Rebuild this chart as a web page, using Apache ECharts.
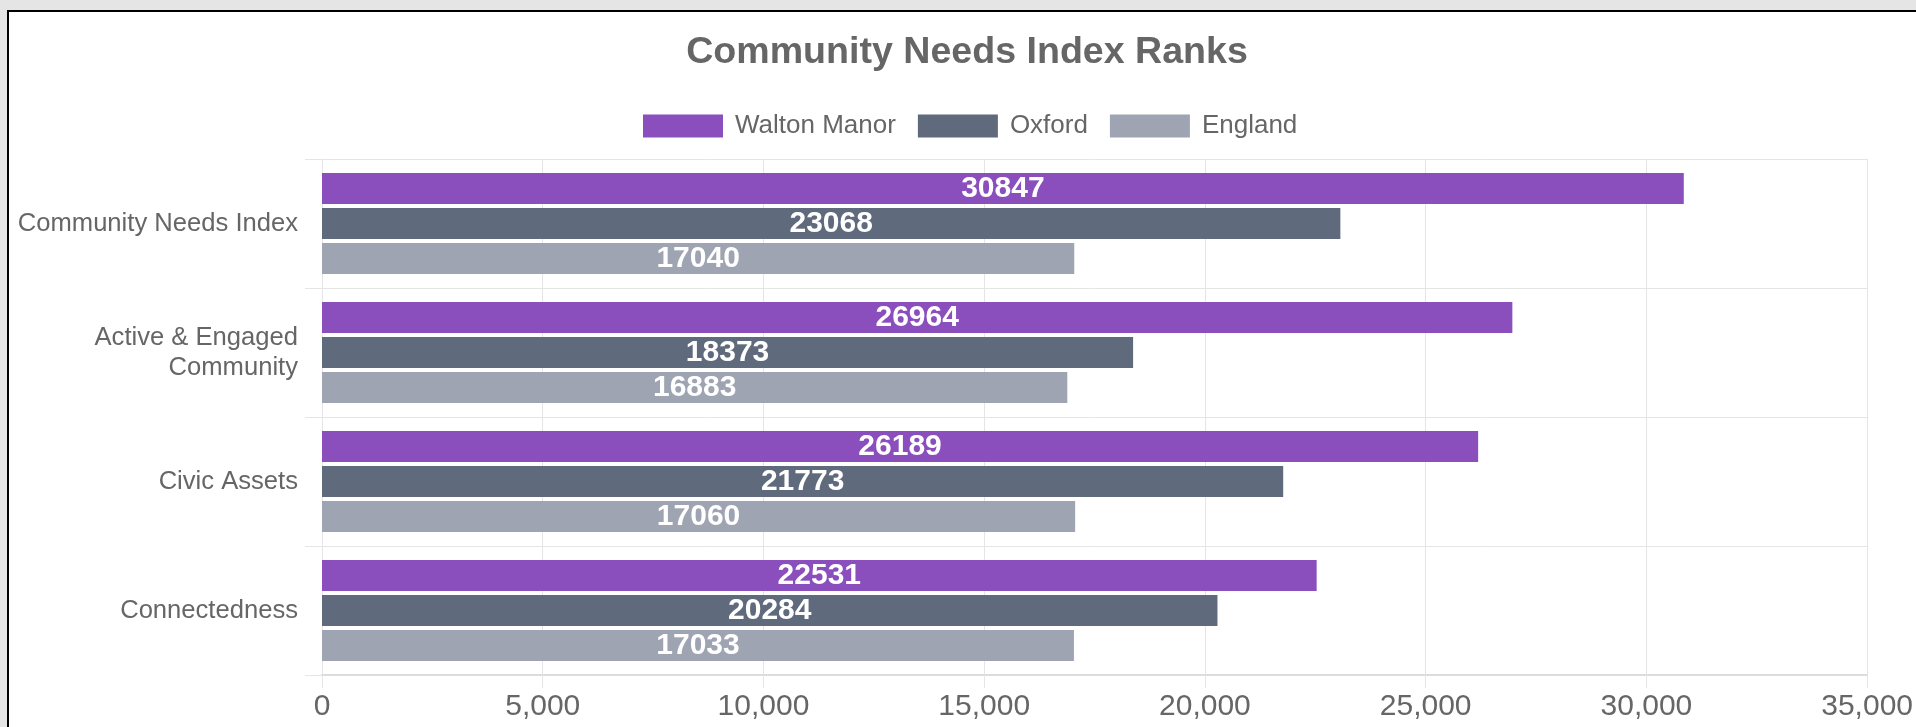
<!DOCTYPE html>
<html>
<head>
<meta charset="utf-8">
<title>Community Needs Index Ranks</title>
<script src="https://cdn.jsdelivr.net/npm/echarts@6/dist/echarts.min.js"></script>
<style>
    html, body { margin: 0; padding: 0; background: #e5e5e5; }
    #frame { position: absolute; left: 7px; top: 10px; right: 0; bottom: 0; background: #fff;
        border-left: 2px solid #000; border-top: 2px solid #000; }
    #chart { position: absolute; left: 0; top: 0; width: 1916px; height: 727px; }
</style>
</head>
<body>
<div id="frame"></div>
<div id="chart"></div>
<script>
var categories = ['Community Needs Index', 'Active & Engaged\nCommunity', 'Civic Assets', 'Connectedness'];
var seriesNames = ['Walton Manor', 'Oxford', 'England'];
var waltonManor = [30847, 26964, 26189, 22531];
var oxford = [23068, 18373, 21773, 20284];
var england = [17040, 16883, 17060, 17033];
var colors = ['#8b4fbd', '#5f6a7c', '#9ea4b1'];

var chart = echarts.init(document.getElementById('chart'), null, {renderer: 'canvas'});
var font = '"Liberation Sans", Arial, sans-serif';

function barSeries(name, data, color) {
    return {
        name: name,
        type: 'bar',
        data: data,
        barWidth: 31,
        barGap: '13%',
        itemStyle: {color: color},
        label: {
            show: true,
            position: 'inside',
            color: '#fff',
            fontWeight: 'bold',
            fontSize: 30,
            fontFamily: font
        }
    };
}

var option = {
    animation: false,
    backgroundColor: 'transparent',
    title: {
        text: 'Community Needs Index Ranks',
        left: 962,
        top: 29,
        textAlign: 'center',
        textStyle: {color: '#666', fontSize: 37.6, fontWeight: 'bold', fontFamily: font}
    },
    legend: {
        data: seriesNames,
        left: 638,
        top: 106,
        itemWidth: 80,
        itemHeight: 23,
        itemGap: 22,
        icon: 'rect',
        textStyle: {color: '#666', fontSize: 26, fontFamily: font, lineHeight: 30, padding: [0, 0, 0, 7]}
    },
    grid: {left: 322, right: 44, top: 159, bottom: 52},
    xAxis: {
        type: 'value',
        min: 0,
        max: 35000,
        interval: 5000,
        axisLine: {show: true, lineStyle: {color: '#dcdcdc', width: 2}},
        axisTick: {show: true, length: 13, lineStyle: {color: '#e5e5e5'}},
        splitLine: {show: true, lineStyle: {color: '#e5e5e5'}},
        axisLabel: {
            color: '#666',
            fontSize: 30,
            fontFamily: font,
            margin: 17,
            formatter: function (v) { return v.toLocaleString('en-US'); }
        }
    },
    yAxis: {
        type: 'category',
        inverse: true,
        data: categories,
        axisLine: {show: true, lineStyle: {color: '#e5e5e5'}},
        axisTick: {show: true, length: 17, lineStyle: {color: '#e5e5e5'}},
        splitLine: {show: true, lineStyle: {color: '#e5e5e5'}},
        axisLabel: {color: '#666', fontSize: 25.6, fontFamily: font, lineHeight: 30, margin: 24}
    },
    series: [
        barSeries(seriesNames[0], waltonManor, colors[0]),
        barSeries(seriesNames[1], oxford, colors[1]),
        barSeries(seriesNames[2], england, colors[2])
    ]
};

chart.setOption(option);
</script>
</body>
</html>
